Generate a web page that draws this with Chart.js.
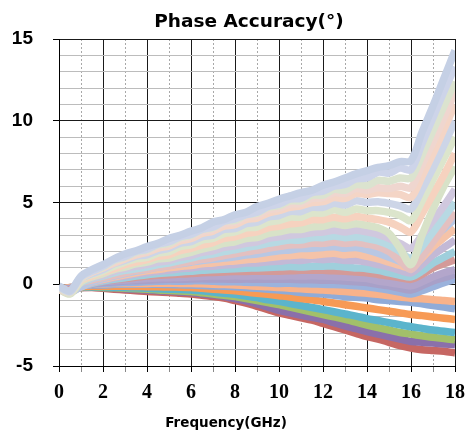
<!DOCTYPE html>
<html>
<head>
<meta charset="utf-8">
<script src="https://cdn.jsdelivr.net/npm/chart.js@4.4.1/dist/chart.umd.min.js"></script>
<style>
  html, body { margin: 0; padding: 0; background: #fff; }
  canvas { display: block; }
</style>
</head>
<body>
<canvas id="phaseChart" width="469" height="438"></canvas>
<script>
// frequency points (GHz)
const freq = [0,0.5,1,1.5,2,2.5,3,3.5,4,4.5,5,5.5,6,6.5,7,7.5,8,8.5,9,9.5,10,10.5,11,11.5,12,12.5,13,13.5,14,14.5,15,15.5,16,16.5,17,17.5,18];
const xLabels = [0,2,4,6,8,10,12,14,16,18];
const yLabels = [-5,0,5,10,15];

// phase error curves (deg)
const topLine     = [-0.1,-0.4,0.5,0.9,1.2,1.55,1.85,2.05,2.3,2.5,2.8,3.0,3.25,3.45,3.8,3.95,4.25,4.4,4.75,4.95,5.2,5.4,5.6,5.75,6.05,6.25,6.5,6.75,6.95,7.15,7.25,7.5,7.55,9.3,10.9,12.6,14.3];
const hazeLine    = [-0.15,-0.45,0.45,0.8,1.1,1.5,1.7,2.0,2.15,2.45,2.6,2.9,3.05,3.35,3.5,3.85,4.0,4.25,4.4,4.75,4.9,5.2,5.25,5.6,5.7,6.0,6.1,6.45,6.5,6.85,6.8,7.1,7.0,8.6,10.2,11.8,13.3];
const celeryLine  = [-0.2,-0.5,0.4,0.8,1.05,1.45,1.65,1.95,2.1,2.4,2.5,2.85,3.0,3.35,3.45,3.85,3.9,4.25,4.35,4.7,4.8,5.1,5.1,5.45,5.45,5.8,5.75,6.1,6.05,6.35,6.3,6.5,6.5,7.9,9.4,10.9,12.4];
const linenLine   = [-0.2,-0.5,0.35,0.75,1.0,1.35,1.6,1.85,2.0,2.3,2.45,2.75,2.9,3.2,3.35,3.7,3.8,4.1,4.2,4.55,4.65,4.9,4.95,5.25,5.3,5.6,5.55,5.85,5.75,5.9,5.85,6.0,5.9,7.3,8.7,10.2,11.8];
const creamLine   = [-0.25,-0.5,0.4,0.75,1.0,1.3,1.55,1.8,1.95,2.2,2.35,2.65,2.8,3.1,3.25,3.55,3.65,3.95,4.05,4.35,4.5,4.7,4.8,5.0,5.05,5.3,5.25,5.55,5.5,5.6,5.55,5.5,5.3,6.6,8.0,9.5,11.0];
const mistLine    = [-0.25,-0.5,0.35,0.65,0.9,1.25,1.45,1.7,1.8,2.05,2.2,2.5,2.6,2.9,3.0,3.35,3.4,3.7,3.8,4.1,4.2,4.45,4.45,4.7,4.7,4.95,4.85,5.1,5.0,5.05,4.95,4.8,4.6,5.8,7.1,8.5,10.0];
const mintLine    = [-0.25,-0.55,0.3,0.6,0.8,1.1,1.35,1.55,1.65,1.9,2.0,2.3,2.4,2.7,2.8,3.1,3.2,3.45,3.5,3.8,3.9,4.1,4.1,4.35,4.35,4.55,4.4,4.6,4.5,4.5,4.4,4.2,3.9,5.1,6.4,7.7,9.0];
const peachLine   = [-0.3,-0.5,0.25,0.5,0.75,0.95,1.2,1.35,1.5,1.7,1.8,2.05,2.2,2.4,2.55,2.8,2.9,3.1,3.2,3.45,3.55,3.7,3.75,3.95,3.95,4.1,4.0,4.15,4.05,3.95,3.8,3.5,3.2,4.3,5.5,6.7,8.0];
const sageLine    = [-0.3,-0.6,0.15,0.45,0.65,0.9,1.05,1.25,1.35,1.55,1.6,1.8,1.95,2.15,2.3,2.5,2.6,2.8,2.85,3.1,3.2,3.35,3.35,3.5,3.55,3.7,3.6,3.7,3.6,3.45,3.1,2.2,1.2,3.0,4.6,6.0,7.2];
const lavenderLine= [-0.3,-0.55,0.15,0.4,0.55,0.8,0.95,1.1,1.2,1.35,1.45,1.65,1.75,1.95,2.05,2.25,2.35,2.5,2.6,2.8,2.9,3.0,3.05,3.15,3.2,3.3,3.2,3.3,3.2,3.05,2.8,2.5,2.2,3.0,3.9,4.8,5.8];
const iceLine     = [-0.3,-0.5,0.1,0.35,0.5,0.7,0.85,0.95,1.05,1.2,1.3,1.45,1.6,1.75,1.85,2.0,2.1,2.25,2.35,2.5,2.6,2.7,2.7,2.85,2.85,2.95,2.85,2.9,2.8,2.65,2.4,2.0,1.6,2.3,3.2,4.1,5.0];
const pinkLine    = [-0.3,-0.45,0.1,0.25,0.4,0.55,0.7,0.85,0.92,1.05,1.13,1.28,1.4,1.52,1.62,1.76,1.86,1.98,2.07,2.2,2.3,2.4,2.42,2.5,2.5,2.58,2.5,2.55,2.45,2.3,2.0,1.45,0.9,1.7,2.6,3.5,4.4];
const skyLine     = [-0.3,-0.5,-0.15,0.15,0.35,0.5,0.65,0.8,0.92,1.05,1.15,1.25,1.35,1.45,1.52,1.6,1.68,1.78,1.85,1.95,2.05,2.1,2.18,2.2,2.25,2.3,2.2,2.25,2.1,1.9,1.65,1.4,1.2,1.9,2.8,3.4,4.0];
const salmonLine  = [-0.3,-0.45,-0.15,0.15,0.3,0.45,0.58,0.7,0.82,0.9,1.0,1.08,1.15,1.25,1.3,1.38,1.42,1.5,1.55,1.62,1.7,1.75,1.8,1.78,1.85,1.9,1.8,1.85,1.7,1.55,1.35,1.15,1.0,1.6,2.3,2.85,3.4];
const mauveLine   = [-0.3,-0.45,-0.15,0.1,0.25,0.4,0.5,0.62,0.7,0.8,0.85,0.95,1.0,1.08,1.1,1.18,1.2,1.3,1.3,1.38,1.4,1.48,1.45,1.55,1.5,1.55,1.45,1.45,1.35,1.2,1.05,0.85,0.7,1.2,1.8,2.25,2.7];
const tealLine    = [-0.3,-0.4,-0.15,0.05,0.2,0.3,0.4,0.5,0.58,0.65,0.7,0.75,0.8,0.85,0.88,0.92,0.95,0.98,1.0,1.02,1.05,1.08,1.05,1.1,1.1,1.12,1.05,1.0,0.95,0.85,0.7,0.55,0.45,0.8,1.3,1.65,2.0];
const roseLine    = [-0.3,-0.35,-0.1,0.05,0.2,0.28,0.35,0.42,0.5,0.55,0.58,0.62,0.65,0.7,0.72,0.75,0.78,0.78,0.8,0.8,0.8,0.82,0.85,0.85,0.85,0.82,0.8,0.75,0.7,0.6,0.5,0.4,0.3,0.6,1.0,1.25,1.5];
const lilacLine   = [-0.3,-0.3,-0.1,0.05,0.15,0.2,0.25,0.3,0.35,0.38,0.4,0.42,0.45,0.48,0.5,0.5,0.52,0.5,0.52,0.5,0.5,0.52,0.5,0.52,0.5,0.48,0.45,0.4,0.35,0.2,0.1,0,-0.1,0.15,0.45,0.7,0.9];
const violetLine  = [-0.3,-0.28,-0.1,0.02,0.1,0.15,0.2,0.22,0.25,0.28,0.3,0.3,0.32,0.33,0.32,0.32,0.3,0.32,0.3,0.3,0.3,0.3,0.28,0.28,0.25,0.25,0.2,0.15,0.1,0,-0.1,-0.25,-0.35,-0.1,0.2,0.4,0.6];
const steelLine   = [-0.3,-0.25,-0.1,0,0.05,0.08,0.1,0.12,0.15,0.18,0.2,0.18,0.2,0.22,0.18,0.15,0.15,0.12,0.1,0.08,0.05,0.06,0.03,0.02,0,-0.02,-0.05,-0.1,-0.15,-0.25,-0.35,-0.48,-0.6,-0.4,-0.15,0.1,0.3];
const apricotLine = [-0.3,-0.2,-0.08,0,0.02,0.04,0.05,0.05,0.05,0.06,0.06,0.05,0.05,0.03,0,-0.02,-0.05,-0.08,-0.12,-0.15,-0.2,-0.24,-0.28,-0.32,-0.35,-0.4,-0.45,-0.5,-0.55,-0.62,-0.7,-0.78,-0.85,-0.88,-0.95,-1.0,-1.05];
const blueLine    = [-0.3,-0.2,-0.1,-0.05,-0.05,0,0,0,0,0,-0.02,-0.03,-0.05,-0.08,-0.1,-0.12,-0.15,-0.2,-0.25,-0.3,-0.35,-0.42,-0.5,-0.55,-0.6,-0.68,-0.75,-0.8,-0.85,-0.95,-1.0,-1.05,-1.1,-1.2,-1.3,-1.4,-1.5];
const orangeLine  = [-0.3,-0.22,-0.15,-0.12,-0.12,-0.12,-0.13,-0.14,-0.15,-0.16,-0.17,-0.18,-0.2,-0.25,-0.3,-0.35,-0.4,-0.48,-0.55,-0.62,-0.7,-0.78,-0.88,-0.95,-1.05,-1.15,-1.25,-1.35,-1.45,-1.55,-1.65,-1.75,-1.85,-1.92,-2.0,-2.08,-2.15];
const aquaLine    = [-0.3,-0.25,-0.18,-0.15,-0.15,-0.18,-0.2,-0.22,-0.25,-0.28,-0.3,-0.32,-0.35,-0.4,-0.48,-0.55,-0.62,-0.72,-0.82,-0.95,-1.05,-1.18,-1.3,-1.42,-1.55,-1.68,-1.82,-1.95,-2.1,-2.22,-2.35,-2.48,-2.6,-2.7,-2.8,-2.88,-2.95];
const greenLine   = [-0.3,-0.25,-0.2,-0.15,-0.2,-0.22,-0.25,-0.28,-0.3,-0.35,-0.38,-0.42,-0.45,-0.52,-0.6,-0.68,-0.75,-0.88,-1.0,-1.12,-1.25,-1.4,-1.55,-1.7,-1.85,-2.0,-2.15,-2.32,-2.5,-2.65,-2.8,-2.95,-3.05,-3.15,-3.25,-3.32,-3.4];
const purpleLine  = [-0.3,-0.25,-0.2,-0.18,-0.2,-0.25,-0.28,-0.32,-0.35,-0.4,-0.42,-0.47,-0.5,-0.58,-0.65,-0.75,-0.88,-1.02,-1.2,-1.4,-1.6,-1.75,-1.9,-2.02,-2.15,-2.35,-2.55,-2.72,-2.9,-3.05,-3.2,-3.35,-3.5,-3.55,-3.6,-3.65,-3.7];
const redLine     = [-0.3,-0.25,-0.2,-0.2,-0.25,-0.3,-0.35,-0.4,-0.45,-0.48,-0.5,-0.55,-0.6,-0.68,-0.75,-0.85,-1.0,-1.15,-1.35,-1.55,-1.75,-1.9,-2.05,-2.2,-2.4,-2.6,-2.8,-3.0,-3.2,-3.35,-3.55,-3.75,-3.9,-4.0,-4.05,-4.1,-4.2];

// first entry is drawn on top
const series = [topLine, hazeLine, celeryLine, linenLine, creamLine, mistLine, mintLine, peachLine, sageLine,
  lavenderLine, iceLine, pinkLine, skyLine, salmonLine, mauveLine, tealLine, roseLine, lilacLine, violetLine,
  steelLine, apricotLine, blueLine, orangeLine, aquaLine, greenLine, purpleLine, redLine];
const seriesColors = ['#c5d0e5', '#cdd4e9', '#dbe3cf', '#efd6cf', '#f4d5c6', '#cdd5e7', '#dce5cc', '#f6d2bf', '#d8e2c8',
  '#d0c8de', '#b7d9e3', '#e3c0c0', '#b8c7e3', '#f5c3a8', '#c3b9d6', '#9fcfdc', '#d49a98', '#b3a6cb', '#a8a0c8',
  '#9bb2dc', '#f8b28a', '#8fabd8', '#f79a55', '#5bb4cc', '#a2c06a', '#8a70aa', '#c66763'];

// chart title and x-axis title
const titles = {
  id: 'titles',
  afterDraw(chart) {
    const c = chart.ctx;
    c.save();
    c.fillStyle = '#000';
    c.textAlign = 'center';
    c.font = 'bold 18.5px "DejaVu Sans"';
    c.fillText('Phase Accuracy(°)', 249, 27);
    c.font = 'bold 13.5px "DejaVu Sans"';
    c.fillText('Frequency(GHz)', 226, 427);
    c.restore();
  }
};

new Chart(document.getElementById('phaseChart'), {
  type: 'line',
  data: {
    datasets: series.map((vals, i) => ({
      data: vals.map((y, j) => ({x: freq[j], y: y})),
      borderColor: seriesColors[i],
      borderWidth: 7.5,
      pointRadius: 0,
      tension: 0.3,
      fill: false,
      clip: 0
    }))
  },
  options: {
    responsive: false,
    animation: false,
    devicePixelRatio: 1,
    layout: { padding: { left: 8, right: 14, top: 39, bottom: 0 } },
    plugins: {
      legend: { display: false },
      tooltip: { enabled: false },
      title: { display: false }
    },
    scales: {
      x: {
        type: 'linear',
        min: 0, max: 18,
        afterFit(s) { s.height = 72; s.paddingLeft = 0; s.paddingRight = 0; },
        ticks: {
          stepSize: 1, autoSkip: false, maxRotation: 0, padding: 9,
          color: '#000',
          font: { family: 'Liberation Serif', size: 20, weight: 'bold' },
          callback: v => xLabels.includes(v) ? String(v) : ''
        },
        grid: {
          color: c => c.tick && c.tick.value % 2 ? '#a8a8a8' : '#1a1a1a',
          tickColor: c => c.tick && c.tick.value % 2 ? '#888' : '#000',
          tickLength: 6,
          lineWidth: 1
        },
        border: { color: '#000', width: 1, dash: c => c.tick && c.tick.value % 2 ? [2, 2] : [] }
      },
      y: {
        min: -5, max: 15,
        afterFit(s) { s.width = 51; s.paddingTop = 0; s.paddingBottom = 0; },
        ticks: {
          stepSize: 1, autoSkip: false, padding: 20,
          color: '#000',
          font: { family: 'Liberation Sans', size: 19, weight: 'bold' },
          callback: v => yLabels.includes(v) ? String(v) : ''
        },
        grid: {
          color: c => c.tick && c.tick.value % 5 === 0 ? '#1a1a1a' : '#bcbcbc',
          tickColor: c => c.tick && c.tick.value % 5 === 0 ? '#000' : 'rgba(0,0,0,0)',
          tickLength: 6,
          lineWidth: 1
        },
        border: { color: '#000', width: 1 }
      }
    }
  },
  plugins: [titles]
});
</script>
</body>
</html>
